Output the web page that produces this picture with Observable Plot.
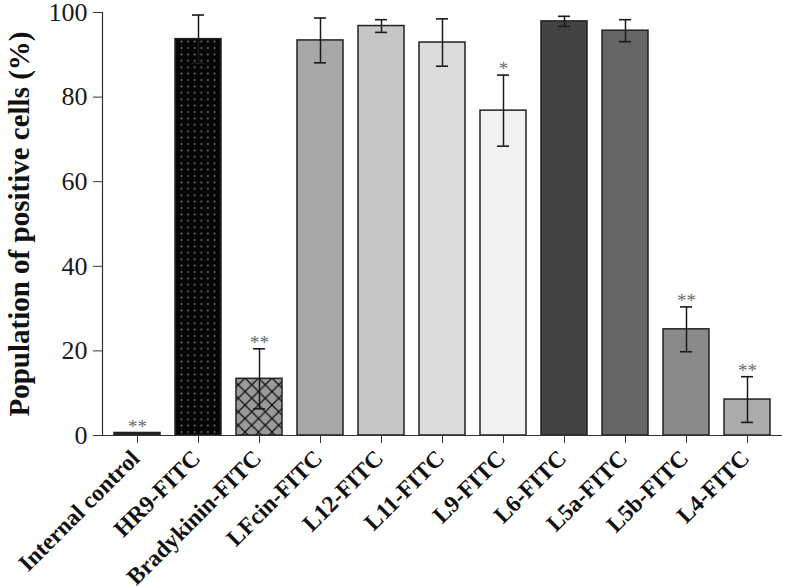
<!DOCTYPE html>
<html>
<head>
<meta charset="utf-8">
<script src="https://cdn.jsdelivr.net/npm/d3@7"></script>
<script src="https://cdn.jsdelivr.net/npm/@observablehq/plot@0.6"></script>
<style>
  html, body { margin: 0; padding: 0; background: #fff; }
</style>
</head>
<body>
<div id="chart"></div>
<script>
const categories = ["Internal control", "HR9-FITC", "Bradykinin-FITC", "LFcin-FITC", "L12-FITC", "L11-FITC", "L9-FITC", "L6-FITC", "L5a-FITC", "L5b-FITC", "L4-FITC"];
const means = [0.6, 93.7, 13.4, 93.4, 96.8, 92.9, 76.8, 97.9, 95.7, 25.1, 8.5];
const errors = [0, 5.7, 7.1, 5.3, 1.5, 5.6, 8.4, 1.2, 2.6, 5.3, 5.4];
const significance = ["**", "", "**", "", "", "", "*", "", "", "**", "**"];
const yTicks = [0, 20, 40, 60, 80, 100];
const yLabel = "Population of positive cells (%)";

const barFill = {
  "Internal control": "#262626",
  "HR9-FITC": "url(#dots)",
  "Bradykinin-FITC": "url(#cross)",
  "LFcin-FITC": "#a7a7a7",
  "L12-FITC": "#c6c6c6",
  "L11-FITC": "#dcdcdc",
  "L9-FITC": "#f1f1f1",
  "L6-FITC": "#434343",
  "L5a-FITC": "#666666",
  "L5b-FITC": "#8a8a8a",
  "L4-FITC": "#ababab"
};

const table = categories.map((c, i) => ({cat: c, mean: means[i], err: errors[i], sig: significance[i]}));
const withErr = table.filter(d => d.err > 0);
const withSig = table.filter(d => d.sig);

function patterns() {
  const defs = d3.create("svg:defs");
  const dots = defs.append("pattern").attr("id", "dots").attr("patternUnits", "userSpaceOnUse")
    .attr("width", 6.6).attr("height", 6.4);
  dots.append("rect").attr("width", 6.6).attr("height", 6.4).attr("fill", "#050505");
  dots.append("circle").attr("cx", 3.3).attr("cy", 3.2).attr("r", 0.9).attr("fill", "#8a8a8a");
  const s = 13.5;
  const cross = defs.append("pattern").attr("id", "cross").attr("patternUnits", "userSpaceOnUse")
    .attr("width", s).attr("height", s).attr("x", 2);
  cross.append("rect").attr("width", s).attr("height", s).attr("fill", "#9a9a9a");
  cross.append("path").attr("d", `M0,0L${s},${s}M0,${s}L${s},0`).attr("stroke", "#111").attr("stroke-width", 1.3);
  return defs.node();
}

const chart = Plot.plot({
  width: 785,
  height: 588,
  marginLeft: 102,
  marginRight: 3,
  marginTop: 12,
  marginBottom: 153,
  style: {fontFamily: "'Liberation Serif', 'Times New Roman', serif", background: "#fff", color: "#1a1a1a"},
  x: {domain: categories, paddingInner: 0.25, paddingOuter: 0.13},
  y: {domain: [0, 100]},
  color: {type: "identity"},
  marks: [
    patterns,
    Plot.barY(table, {x: "cat", y: "mean", fill: d => barFill[d.cat], stroke: "#222", strokeWidth: 1.5}),
    Plot.ruleX(withErr, {x: "cat", y1: d => d.mean - d.err, y2: d => d.mean + d.err, stroke: "#1a1a1a", strokeWidth: 1.5}),
    Plot.tickY(withErr, {x: "cat", y: d => d.mean + d.err, insetLeft: 17, insetRight: 17, stroke: "#1a1a1a", strokeWidth: 1.6}),
    Plot.tickY(withErr, {x: "cat", y: d => d.mean - d.err, insetLeft: 17, insetRight: 17, stroke: "#1a1a1a", strokeWidth: 1.6}),
    Plot.text(withSig, {x: "cat", y: d => d.mean + d.err, text: "sig", dy: -6, lineAnchor: "middle", fontSize: 19, fill: "#6a6a6a"}),
    Plot.axisY({ticks: yTicks, tickSize: 9, tickFormat: () => "", label: null, stroke: "#333"}),
    Plot.text(yTicks, {y: d => d, text: d => String(d), frameAnchor: "left", dx: -15, textAnchor: "end", lineAnchor: "middle", fontSize: 26, fill: "#1a1a1a"}),
    Plot.axisX({tickSize: 8, tickFormat: () => "", label: null, stroke: "#333"}),
    Plot.frame({anchor: "left", stroke: "#333", strokeWidth: 1.2}),
    Plot.ruleY([0], {stroke: "#333", strokeWidth: 1.2}),
    Plot.text(table, {x: "cat", text: "cat", frameAnchor: "bottom", dx: -2, dy: 19, rotate: -45, textAnchor: "end", lineAnchor: "middle", fontSize: 23.5, fontWeight: "bold", fill: "#111"}),
    Plot.text([yLabel], {frameAnchor: "left", dx: -83, rotate: -90, textAnchor: "middle", fontSize: 29, fontWeight: "bold", fill: "#111"})
  ]
});
document.getElementById("chart").appendChild(chart);
</script>
</body>
</html>
